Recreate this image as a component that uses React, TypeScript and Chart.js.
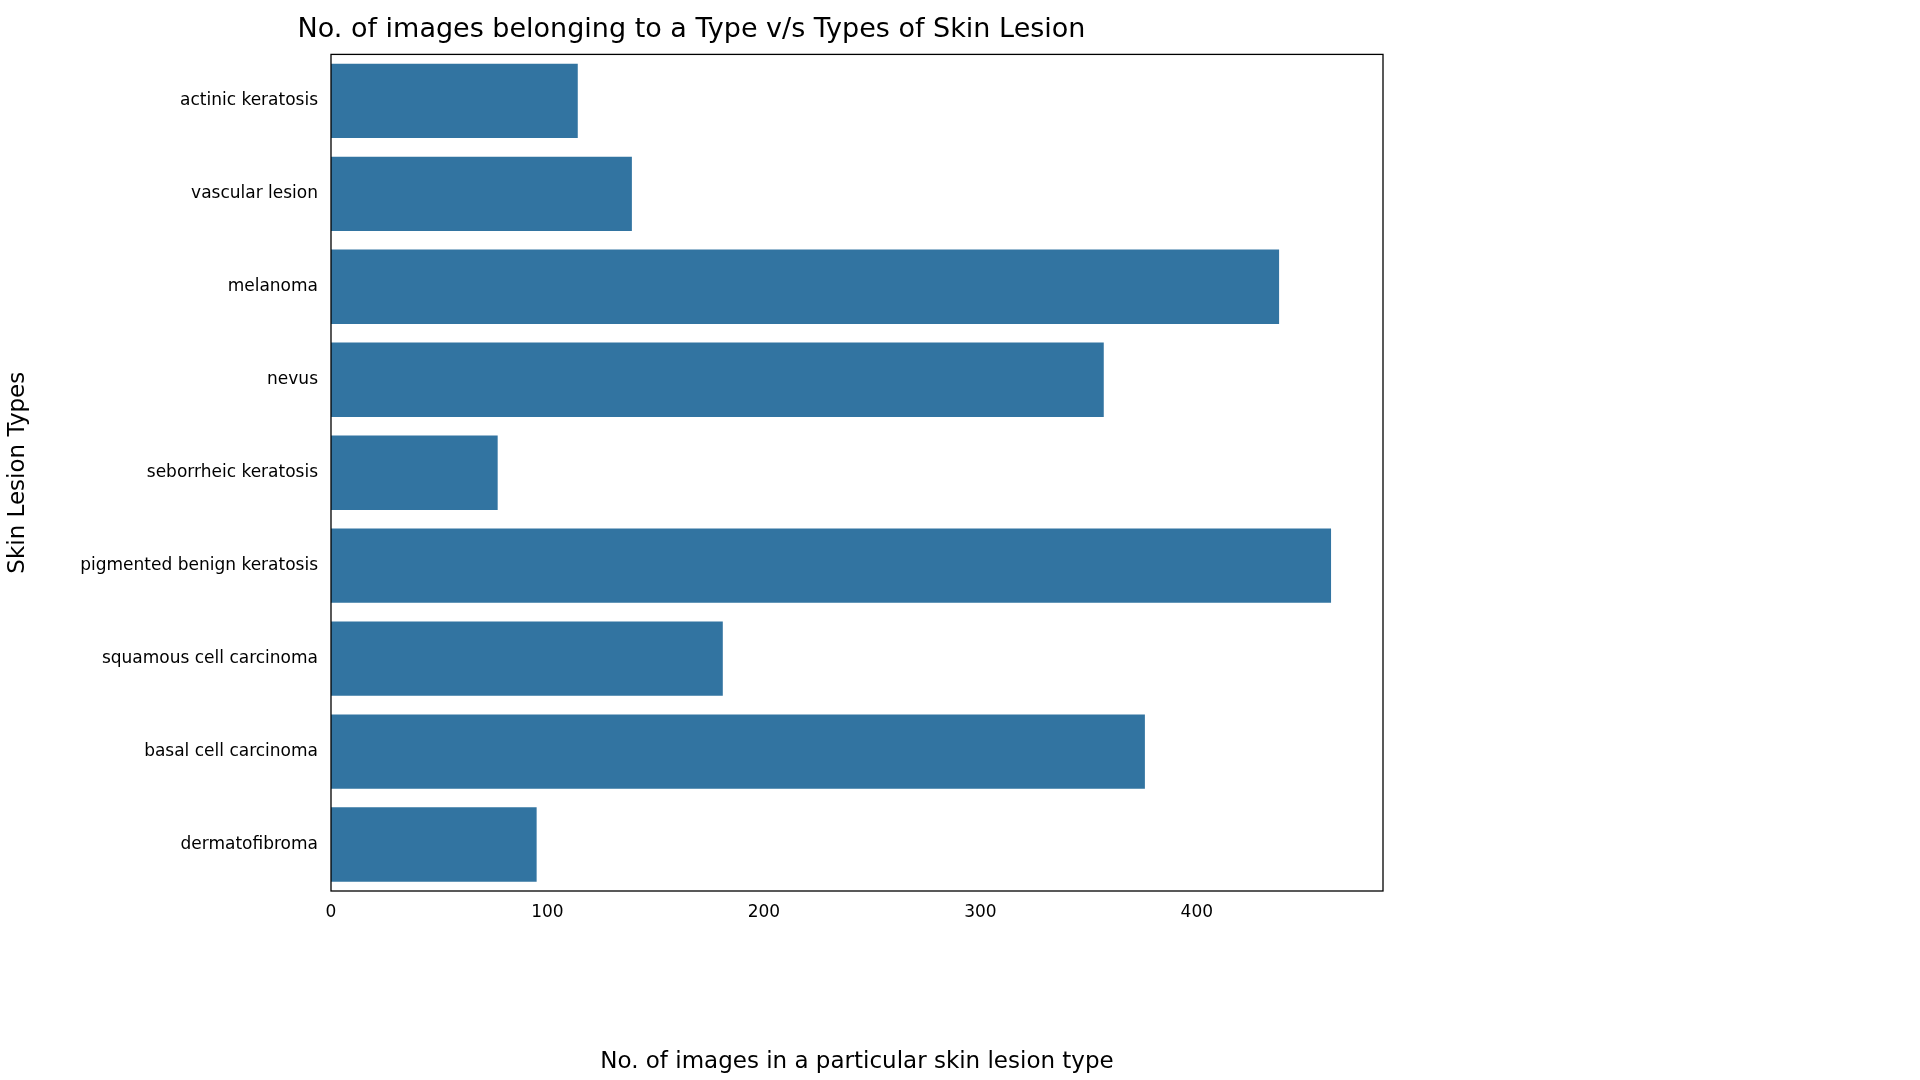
import { useEffect, useRef } from "react";
import { Chart, registerables } from "chart.js";

Chart.register(...registerables);

const categories = [
  "actinic keratosis",
  "vascular lesion",
  "melanoma",
  "nevus",
  "seborrheic keratosis",
  "pigmented benign keratosis",
  "squamous cell carcinoma",
  "basal cell carcinoma",
  "dermatofibroma",
];
const counts = [114, 139, 438, 357, 77, 462, 181, 376, 95];
const xTicks = [0, 100, 200, 300, 400];

const FONT = "'DejaVu Sans', sans-serif";

// box around the plot area, like matplotlib spines
const frame = {
  id: "frame",
  afterDraw(chart: Chart) {
    const { ctx, chartArea: a } = chart;
    ctx.save();
    ctx.strokeStyle = "#000";
    ctx.lineWidth = 1.3;
    ctx.strokeRect(a.left, a.top, a.right - a.left, a.bottom - a.top);
    ctx.restore();
  },
};

export default function App() {
  const chartRef = useRef<HTMLCanvasElement>(null);
  const chartInstance = useRef<Chart | null>(null);

  useEffect(() => {
    document.body.style.margin = "0";
    if (!chartRef.current) return;
    if (chartInstance.current) chartInstance.current.destroy();
    const ctx = chartRef.current.getContext("2d");
    if (!ctx) return;

    chartInstance.current = new Chart(ctx, {
      type: "bar",
      data: {
        labels: categories,
        datasets: [
          {
            data: counts,
            backgroundColor: "#3274a1",
            barPercentage: 1,
            categoryPercentage: 0.8,
          },
        ],
      },
      plugins: [frame],
      options: {
        indexAxis: "y",
        animation: false,
        responsive: false,
        layout: { padding: { left: 0, right: 537, top: 0, bottom: 0 } },
        plugins: {
          legend: { display: false },
          tooltip: { enabled: false },
          title: {
            display: true,
            text: "No. of images belonging to a Type v/s Types of Skin Lesion",
            color: "#000",
            font: { family: FONT, size: 27, weight: "normal" },
            padding: { top: 14, bottom: 8 },
          },
        },
        scales: {
          x: {
            min: 0,
            max: 486,
            afterBuildTicks: (s: any) => {
              s.ticks = xTicks.map((v) => ({ value: v }));
            },
            afterFit: (s: any) => {
              s.height = 189;
            },
            grid: { display: false, drawTicks: true, tickLength: 7, tickColor: "#000" },
            border: { display: false },
            ticks: { color: "#000", font: { family: FONT, size: 17 }, padding: 4 },
            title: {
              display: true,
              text: "No. of images in a particular skin lesion type",
              color: "#000",
              font: { family: FONT, size: 23 },
              padding: { top: 2 },
            },
          },
          y: {
            afterFit: (s: any) => {
              s.width = 331;
            },
            grid: { display: false, drawTicks: true, tickLength: 7, tickColor: "#000" },
            border: { display: false },
            ticks: { color: "#000", font: { family: FONT, size: 17 }, padding: 6 },
            title: {
              display: true,
              text: "Skin Lesion Types",
              color: "#000",
              font: { family: FONT, size: 23 },
              padding: { bottom: 0 },
            },
          },
        },
      },
    });

    return () => {
      if (chartInstance.current) chartInstance.current.destroy();
    };
  }, []);

  return <canvas ref={chartRef} width={1920} height={1080} style={{ display: "block" }} />;
}
